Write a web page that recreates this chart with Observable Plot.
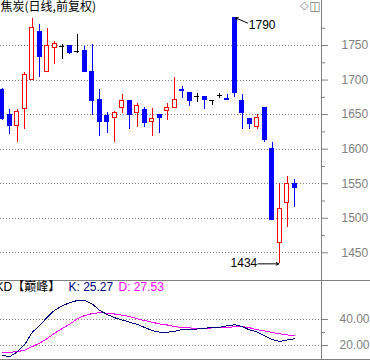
<!DOCTYPE html>
<html><head><meta charset="utf-8">
<script src="https://cdn.jsdelivr.net/npm/d3@7"></script>
<script src="https://cdn.jsdelivr.net/npm/@observablehq/plot@0.6"></script>
<style>
html,body{margin:0;padding:0;background:#fff;}
#wrap{position:relative;width:370px;height:360px;overflow:hidden;}
#main{position:absolute;left:0;top:0;width:370px;height:280px;border-bottom:1px solid #808080;}
#kd{position:absolute;left:0;top:281px;width:370px;height:78px;border-bottom:1px solid #808080;}
svg{display:block}
</style></head><body>
<div id="wrap"><div id="main"></div><div id="kd"></div></div>
<script>
const title = "焦炭(日线,前复权)";
const kdTitle = "KD【巅峰】";
const openP  = [1686,1650,1633,1658,1700,1770,1711,1747,1749,1750,1742,1743,1712,1672,1649,1645,1660,1670,1653,1658,1640,1650,1655,1660,1687,1682,1676,1676,1671,1678,1674,1790,1670,1644,1632,1660,1601,1464,1522,1550];
const highP  = [1688,1658,1658,1711,1789,1780,1775,1756,1752,1750,1766,1749,1752,1686,1653,1654,1679,1670,1666,1660,1659,1650,1666,1703,1691,1682,1681,1676,1671,1681,1679,1790,1679,1644,1650,1660,1609,1551,1561,1556];
const lowP   = [1641,1621,1610,1629,1700,1704,1711,1722,1730,1737,1738,1711,1649,1618,1623,1610,1652,1629,1632,1632,1618,1623,1642,1660,1674,1662,1668,1658,1663,1674,1671,1675,1629,1629,1628,1609,1497,1434,1487,1516];
const closeP = [1643,1633,1654,1708,1776,1733,1750,1752,1749,1739,1742,1711,1669,1638,1639,1653,1669,1648,1663,1637,1643,1645,1659,1671,1684,1669,1676,1671,1671,1678,1671,1681,1652,1636,1645,1612,1497,1513,1550,1543];
const kValues = [12.3,11.5,15,20.8,30.2,35.4,41.8,47.3,50.4,53.1,54.6,54.6,51.9,46.9,43.8,41.3,39.6,37.9,36.2,33.8,31.5,30.2,30.2,31,32.3,32.1,32.7,33.1,34.1,34.1,35.2,35.9,34.6,31.9,30.4,27.3,24.6,23.1,24.2,25.27];
const dValues = [14.8,14.8,15.2,16.5,19.2,21.9,25.4,29.6,33.1,36.5,40.5,43.1,44.6,45.2,44.8,44.2,43.3,42.3,40.5,39.2,37.9,36.5,35.8,34.6,33.8,33.6,32.8,32.8,33.6,33.6,33.6,34.6,34.6,33.6,32.1,31.2,30,29,28.1,27.53];
const priceTicks = [1450,1500,1550,1600,1650,1700,1750];
const priceMinor = [1475,1525,1575,1625,1675,1725,1775];
const kdTicks = [20,40];
const kdMinor = [30];

const n = openP.length;
const candles = openP.map((o,i)=>({i,o,h:highP[i],l:lowP[i],c:closeP[i]}));
const RED="#ff0000", BLUE="#0000ff", GRAY="#808080", NAVY="#000080", MAG="#ff00ff";
const col = d => d.c>d.o?RED:d.c<d.o?BLUE:"#000000";
const up = candles.filter(d=>d.c>d.o), down = candles.filter(d=>d.c<d.o), doji = candles.filter(d=>d.c===d.o);
const hiC = candles.reduce((a,b)=>b.h>a.h?b:a);
const loC = candles.reduce((a,b)=>b.l<a.l?b:a);
const kd = kValues.map((k,i)=>({i,k,d:dValues[i]}));
const FONT = "'Liberation Sans', Arial, 'Noto Sans CJK SC', sans-serif";
const style = {fontFamily:FONT, fontSize:"12px", background:"transparent", overflow:"visible"};
const xOpt = {type:"linear", domain:[0,n-1], range:[1.8,294.3], axis:null};

const main = Plot.plot({
  width:370, height:280, marginLeft:0, marginRight:49, marginTop:0, marginBottom:0,
  style, x:xOpt,
  y:{domain:[1450,1750], range:[252.3,45], axis:null},
  marks:[
    Plot.ruleY(priceTicks,{y:d=>d, stroke:GRAY, strokeDasharray:"1,2", shapeRendering:"crispEdges"}),
    Plot.frame({anchor:"right", stroke:GRAY, shapeRendering:"crispEdges"}),
    Plot.axisY(priceTicks,{anchor:"right", tickSize:6, tickPadding:14, color:GRAY, label:null, fontSize:12, tickFormat:d=>String(d)}),
    Plot.axisY(priceMinor,{anchor:"right", tickSize:3, color:GRAY, label:null, tickFormat:()=>""}),
    Plot.ruleX(candles,{x:"i", y1:"l", y2:"h", stroke:col, strokeWidth:1, shapeRendering:"crispEdges"}),
    Plot.rect(down,{x1:d=>d.i-0.34, x2:d=>d.i+0.34, y1:"o", y2:"c", fill:BLUE, shapeRendering:"crispEdges"}),
    Plot.rect(up,{x1:d=>d.i-0.27, x2:d=>d.i+0.27, y1:"o", y2:"c", fill:"white", stroke:RED, strokeWidth:1, shapeRendering:"crispEdges"}),
    Plot.ruleY(doji,{y:"o", x1:d=>d.i-0.34, x2:d=>d.i+0.34, stroke:"black", shapeRendering:"crispEdges"}),
    Plot.text([title],{frameAnchor:"top-left", lineAnchor:"top", textAnchor:"start", dx:0, dy:2, fill:"black", fontSize:12, fontFamily:"'Noto Sans CJK SC', sans-serif"}),
    Plot.text(["◫"],{frameAnchor:"top-right", lineAnchor:"top", textAnchor:"end", dx:-1, dy:1, fill:GRAY, fontSize:12, fontFamily:"'DejaVu Sans'"}),
    Plot.text(["◇"],{frameAnchor:"top-right", lineAnchor:"top", textAnchor:"end", dx:-13, dy:1, fill:GRAY, fontSize:11, fontFamily:"'DejaVu Sans'"}),
    Plot.arrow([hiC],{x1:d=>d.i+1.7, y1:d=>d.h-7.5, x2:d=>d.i+0.1, y2:"h", stroke:"black", strokeWidth:1, headLength:4}),
    Plot.text([hiC],{x:"i", y:"h", text:d=>String(d.h), dx:14, dy:7, textAnchor:"start", fill:"black", fontSize:12}),
    Plot.arrow([loC],{x1:d=>d.i-2.9, y1:"l", x2:d=>d.i-0.15, y2:"l", stroke:"black", strokeWidth:1, headLength:4}),
    Plot.text([loC],{x:"i", y:"l", text:d=>String(d.l), dx:-22.5, dy:-1, textAnchor:"end", fill:"black", fontSize:12})
  ]
});
document.getElementById("main").append(main);

const last = kd[kd.length-1];
const kdPlot = Plot.plot({
  width:370, height:78, marginLeft:0, marginRight:49, marginTop:0, marginBottom:0,
  style, x:xOpt,
  y:{domain:[20,40], range:[64,38], axis:null},
  marks:[
    Plot.ruleY(kdTicks,{y:d=>d, stroke:GRAY, strokeDasharray:"1,2", shapeRendering:"crispEdges"}),
    Plot.frame({anchor:"right", stroke:GRAY, shapeRendering:"crispEdges"}),
    Plot.axisY(kdTicks,{anchor:"right", tickSize:6, tickPadding:12, color:GRAY, label:null, fontSize:12, tickFormat:d=>d.toFixed(2)}),
    Plot.axisY(kdMinor,{anchor:"right", tickSize:3, color:GRAY, label:null, tickFormat:()=>""}),
    Plot.line(kd,{x:"i", y:"d", stroke:MAG, strokeWidth:1, shapeRendering:"crispEdges"}),
    Plot.line(kd,{x:"i", y:"k", stroke:NAVY, strokeWidth:1, shapeRendering:"crispEdges"}),
    Plot.text([kdTitle],{frameAnchor:"top-left", lineAnchor:"top", textAnchor:"start", dx:-5, dy:1, fill:"black", fontSize:12}),
    Plot.text([last],{frameAnchor:"top-left", lineAnchor:"top", textAnchor:"start", dx:68, dy:1, fill:NAVY, fontSize:12, text:d=>"K: "+d.k.toFixed(2)}),
    Plot.text([last],{frameAnchor:"top-left", lineAnchor:"top", textAnchor:"start", dx:118, dy:1, fill:MAG, fontSize:12, text:d=>"D: "+d.d.toFixed(2)})
  ]
});
document.getElementById("kd").append(kdPlot);
</script>
</body></html>
